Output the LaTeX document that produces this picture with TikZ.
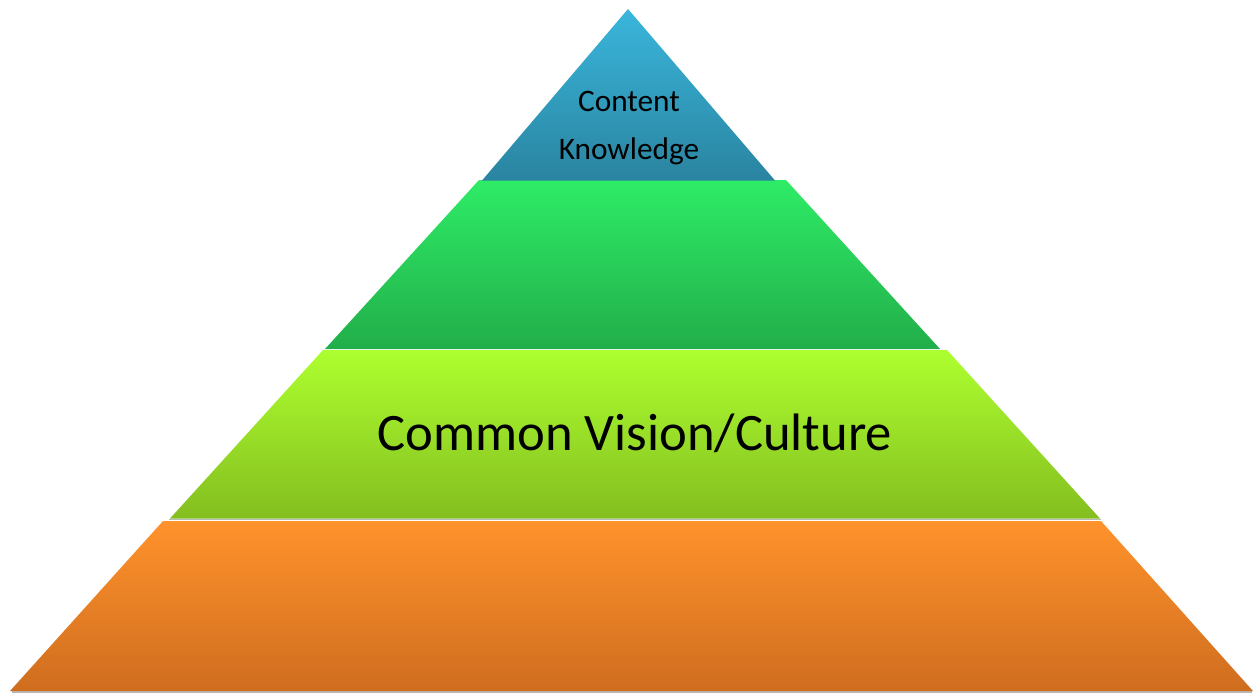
\documentclass[tikz,border=0pt]{standalone}
\usepackage{fontspec}
\setmainfont{Carlito}

% Colores de cada nivel (arriba / abajo del degradado)
\definecolor{cimaA}{HTML}{3AB6DC}
\definecolor{cimaB}{HTML}{2A84A0}
\definecolor{verdeA}{HTML}{2EEC66}
\definecolor{verdeB}{HTML}{22AE4A}
\definecolor{limaA}{HTML}{ADFF2F}
\definecolor{limaB}{HTML}{84BE20}
\definecolor{naranjaA}{HTML}{FF922B}
\definecolor{naranjaB}{HTML}{CF6D1F}

\tikzset{
    nivel/.style 2 args={top color=#1, bottom color=#2},
    sombra/.style={gray!55, line width=1.2pt},
    rotulo/.style={text=black, inner sep=0pt, align=center}
}

\begin{document}
\begin{tikzpicture}[x=0.75pt, y=-0.75pt] % Unidades en pixeles

    % Marco fijo del dibujo
    \useasboundingbox (0,0) rectangle (1255,693);

    % 1. Base naranja (con una linea de sombra abajo)
    \draw[sombra] (12,692) -- (1252,692);
    \shade[nivel={naranjaA}{naranjaB}] (163,521) -- (1101,521) -- (1253,691) -- (10,691) -- cycle;

    % 2. Nivel lima, con su sombra sobre la base
    \draw[sombra] (169,519.5) -- (1101,519.5);
    \shade[nivel={limaA}{limaB}] (323,350) -- (947,350) -- (1100,518.5) -- (170,518.5) -- cycle;

    % 3. Nivel verde
    \shade[nivel={verdeA}{verdeB}] (479,180) -- (786,180) -- (940,349) -- (325,349) -- cycle;

    % 4. Cima azul
    \shade[nivel={cimaA}{cimaB}] (628,9) -- (775,180.5) -- (482,180.5) -- cycle;

    % Textos
    \node[rotulo, font=\fontsize{23.5}{36}\selectfont] (cima) at (629,128) {Content\\Knowledge};
    \node[rotulo, font=\fontsize{39.5}{44}\selectfont] (vision) at (635,433) {Common Vision/Culture};

\end{tikzpicture}
\end{document}
